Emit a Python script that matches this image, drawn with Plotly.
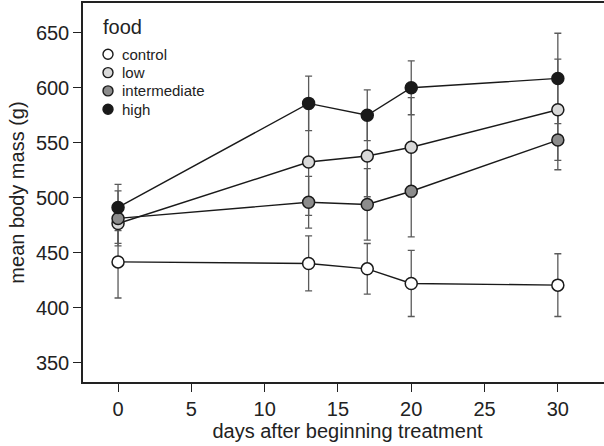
import plotly.graph_objects as go

days = [0, 13, 17, 20, 30]
groups = ["control", "low", "intermediate", "high"]
mean_control = [441.8, 440.4, 435.5, 422.2, 420.7]
mean_low = [476.7, 532.5, 538.0, 546.0, 580.0]
mean_intermediate = [481.3, 496.0, 494.0, 506.0, 552.5]
mean_high = [491.3, 585.8, 575.0, 600.0, 608.5]
se_control = [32.8, 25.0, 23.0, 30.0, 28.5]
se_low = [18.0, 48.5, 37.0, 45.0, 46.0]
se_intermediate = [25.0, 23.5, 32.5, 41.5, 27.0]
se_high = [21.0, 24.8, 23.0, 24.5, 41.0]
fill_colors = ["#ffffff", "#d9d9d9", "#8c8c8c", "#1a1a1a"]
legend_title = "food"

means = [mean_control, mean_low, mean_intermediate, mean_high]
ses = [se_control, se_low, se_intermediate, se_high]

FONT = "Liberation Sans, Arial, sans-serif"
INK = "#222222"
FIG_W = 612  # plot frame continues past the right edge of the 604px window

fig = go.Figure()
# error bars first (behind all markers)
for name, m, s in zip(groups, means, ses):
    fig.add_trace(go.Scatter(
        x=days, y=m, mode="markers", showlegend=False, hoverinfo="skip",
        marker=dict(size=1, opacity=0),
        error_y=dict(type="data", array=s, visible=True, color="#5a5a5a",
                     thickness=1.3, width=3.5),
    ))
for name, m, c in zip(groups, means, fill_colors):
    fig.add_trace(go.Scatter(
        x=days, y=m, mode="lines+markers", name=name, showlegend=False,
        line=dict(color="#1a1a1a", width=1.4),
        marker=dict(size=12, color=c, line=dict(color="#1a1a1a", width=1.5)),
    ))

# manual legend (paper coordinates, pixel-sized symbols)
plot_h = 446 - 3 - 64
plot_w = FIG_W - 83
def px_x(px):
    return (px - 83) / plot_w
def px_y(py):
    return 1 - (py - 3) / plot_h

fig.add_annotation(x=px_x(101), y=px_y(27.5), xref="paper", yref="paper",
                   text=legend_title, showarrow=False, xanchor="left",
                   yanchor="middle", font=dict(size=20, family=FONT, color=INK))
for i, (name, c) in enumerate(zip(groups, fill_colors)):
    cy = px_y(54.3 + 18.3 * i)
    fig.add_shape(type="circle", xref="paper", yref="paper",
                  xsizemode="pixel", ysizemode="pixel",
                  xanchor=px_x(108), yanchor=cy,
                  x0=-5, x1=5, y0=-5, y1=5,
                  fillcolor=c, line=dict(color="#1a1a1a", width=1.4))
    fig.add_annotation(x=px_x(120), y=cy, xref="paper", yref="paper",
                       text=name, showarrow=False, xanchor="left",
                       yanchor="middle", font=dict(size=15, family=FONT, color=INK))

fig.update_layout(
    width=FIG_W, height=446,
    margin=dict(l=83, r=0, t=3, b=64),
    paper_bgcolor="white", plot_bgcolor="white",
    font=dict(family=FONT, color=INK),
    showlegend=False,
)
fig.update_xaxes(
    range=[-2.39, -2.39 + plot_w / 14.66], tickvals=[0, 5, 10, 15, 20, 25, 30],
    showgrid=False, zeroline=False, showline=True, linecolor=INK,
    linewidth=1.5, mirror=True, ticks="outside", ticklen=8, tickwidth=1.3,
    tickcolor=INK, tickfont=dict(size=20),
    title=dict(text="days after beginning treatment", font=dict(size=20), standoff=4),
)
fig.update_yaxes(
    range=[332.7, 677], tickvals=[350, 400, 450, 500, 550, 600, 650],
    showgrid=False, zeroline=False, showline=True, linecolor=INK,
    linewidth=1.5, mirror=False, ticks="outside", ticklen=8, tickwidth=1.3,
    tickcolor=INK, tickfont=dict(size=20),
    title=dict(text="mean body mass (g)", font=dict(size=20), standoff=6),
)

fig.write_html(
    "out.html",
    post_script="document.documentElement.style.overflow='hidden';"
                "document.body.style.overflow='hidden';"
                "document.body.style.margin='0';",
)
